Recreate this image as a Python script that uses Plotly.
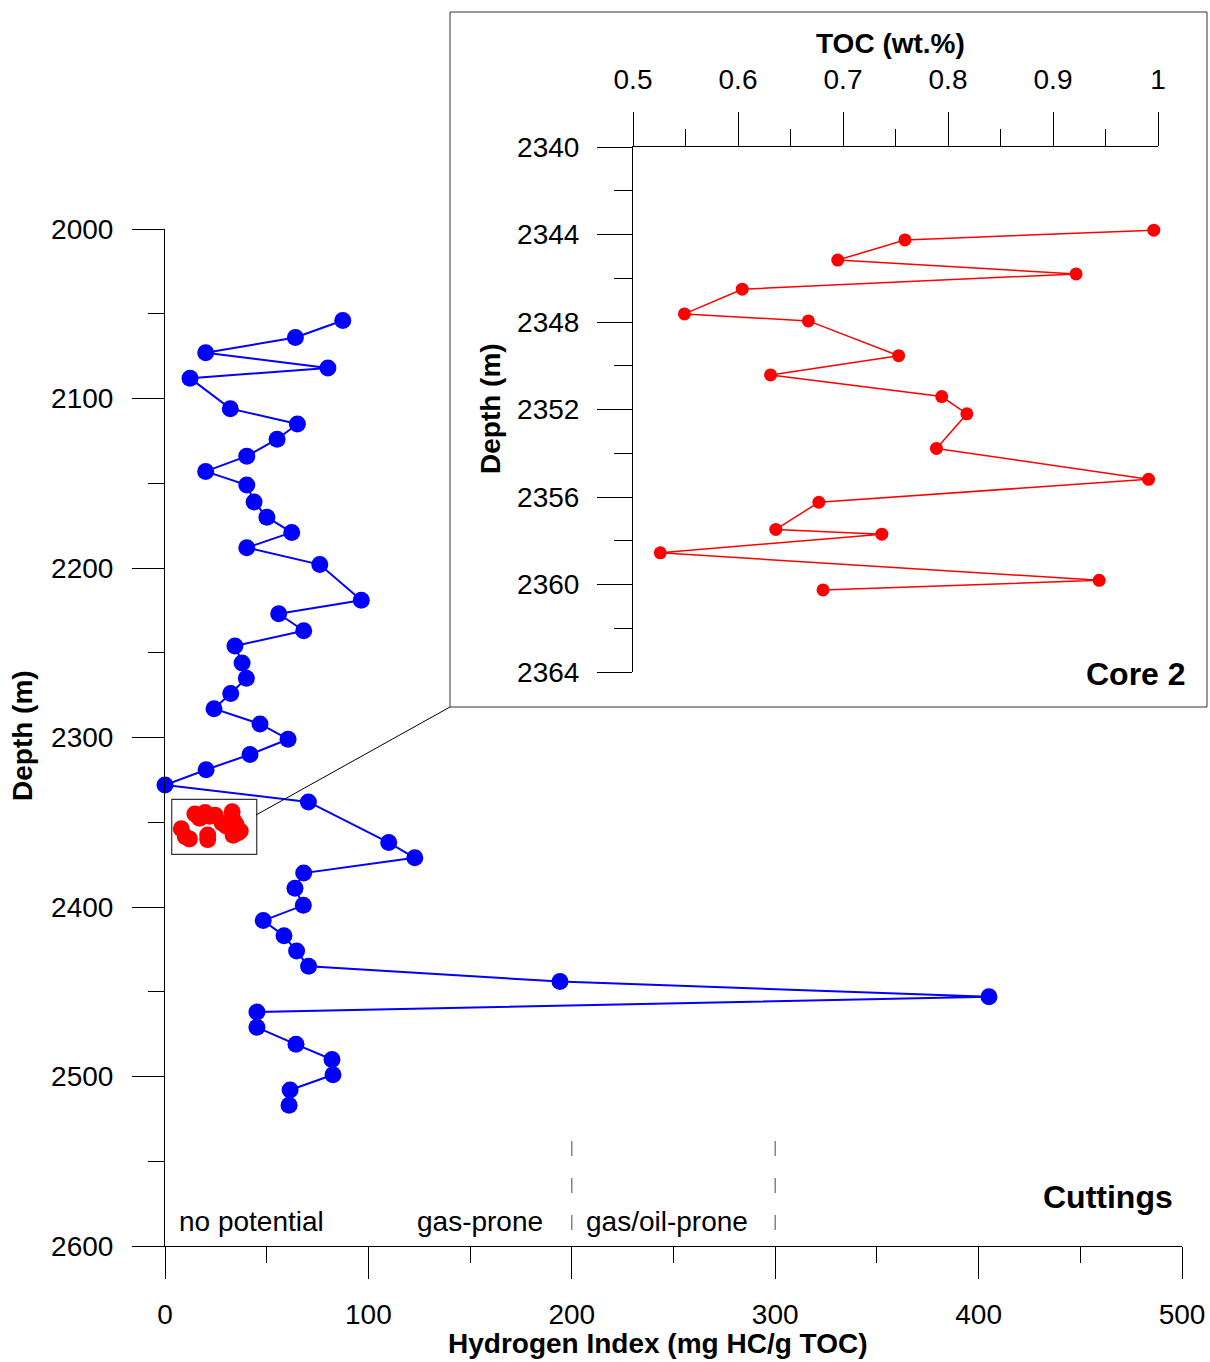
import plotly.graph_objects as go

# ---------------- data ----------------
cuttings_depth = [2054, 2064, 2073, 2082, 2088, 2106, 2115, 2124, 2134, 2143, 2151, 2161,
                  2170, 2179, 2188, 2198, 2219, 2227, 2237, 2246, 2256, 2265, 2274, 2283,
                  2292, 2301, 2310, 2319, 2328, 2338, 2362, 2371, 2380, 2389, 2399, 2408,
                  2417, 2426, 2435, 2444, 2453, 2462, 2471, 2481, 2490, 2499, 2508, 2517]
cuttings_hi = [87.4, 64.1, 20.0, 80.1, 12.3, 32.1, 65.1, 55.1, 40.2, 20.0, 40.2, 43.8,
               50.1, 62.3, 40.2, 76.1, 96.5, 55.9, 68.2, 34.4, 37.9, 40.0, 32.3, 24.1,
               46.7, 60.5, 41.8, 20.2, 0.0, 70.5, 110.0, 122.8, 68.2, 63.9, 68.0, 48.3,
               58.5, 64.7, 70.6, 194.2, 405.1, 45.2, 45.2, 64.4, 82.1, 82.6, 61.5, 61.0]

core_depth = [2343.8, 2344.25, 2345.17, 2345.8, 2346.5, 2347.63, 2347.95, 2349.54, 2350.42,
              2351.41, 2352.2, 2353.78, 2355.19, 2356.24, 2357.48, 2357.7, 2358.55, 2359.81,
              2360.25]
core_toc = [0.996, 0.759, 0.695, 0.922, 0.604, 0.549, 0.667, 0.753, 0.631,
            0.794, 0.818, 0.789, 0.991, 0.677, 0.636, 0.737, 0.526, 0.944, 0.681]
core_hi = [33, 19.7, 14.7, 24.6, 22, 17, 33, 34, 28,
           35, 30, 8, 37, 36, 21, 33.5, 10, 12, 21]

hi_ticks = [0, 100, 200, 300, 400, 500]
depth_ticks = [2000, 2100, 2200, 2300, 2400, 2500, 2600]
toc_ticks = [0.5, 0.6, 0.7, 0.8, 0.9, 1.0]
toc_labels = ["0.5", "0.6", "0.7", "0.8", "0.9", "1"]
core_depth_ticks = [2340, 2344, 2348, 2352, 2356, 2360, 2364]

zone_labels = ["no potential", "gas-prone", "gas/oil-prone"]
zone_bounds = [200, 300]

# ---------------- layout helpers ----------------
W, H = 1210, 1362
def fx(p):
    return p / W
def fy(p):
    return 1 - p / H

FONT = "Arial, Liberation Sans, sans-serif"
BLUE = "#0000ff"
RED = "#ff0000"
FS = 28

fig = go.Figure()
fig.add_trace(go.Scatter(x=cuttings_hi, y=cuttings_depth, mode="lines+markers",
                         line=dict(color=BLUE, width=2),
                         marker=dict(size=17, color=BLUE),
                         cliponaxis=False, xaxis="x", yaxis="y", showlegend=False))
fig.add_trace(go.Scatter(x=core_hi, y=core_depth, mode="markers",
                         marker=dict(size=17, color=RED),
                         cliponaxis=False, xaxis="x", yaxis="y", showlegend=False))
fig.add_trace(go.Scatter(x=core_toc, y=core_depth, mode="lines+markers",
                         line=dict(color=RED, width=1.5),
                         marker=dict(size=13, color=RED),
                         cliponaxis=False, xaxis="x2", yaxis="y2", showlegend=False))

axis_common = dict(showgrid=False, zeroline=False, showline=True, linecolor="black",
                   linewidth=1, ticks="outside", tickcolor="black", tickwidth=1,
                   automargin=False,
                   tickfont=dict(family=FONT, size=FS, color="black"))

fig.update_layout(
    template="none",
    width=W, height=H, autosize=False,
    margin=dict(l=0, r=0, t=0, b=0, autoexpand=False),
    paper_bgcolor="white", plot_bgcolor="white",
    font=dict(family=FONT, color="black"),
    showlegend=False,
    xaxis=dict(domain=[fx(165), fx(1182)], range=[0, 500], anchor="y",
               tickmode="array", tickvals=hi_ticks, ticklen=32,
               minor=dict(tickmode="linear", tick0=0, dtick=50, ticklen=16, ticks="outside",
                          tickcolor="black", tickwidth=1, showgrid=False),
               ticklabelstandoff=11, **axis_common),
    yaxis=dict(domain=[fy(1246), fy(229)], range=[2600, 2000], anchor="x",
               tickmode="array", tickvals=depth_ticks, ticklen=32,
               minor=dict(tickmode="linear", tick0=2000, dtick=50, ticklen=16, ticks="outside",
                          tickcolor="black", tickwidth=1, showgrid=False),
               ticklabelstandoff=13, **axis_common),
    xaxis2=dict(domain=[fx(633), fx(1158)], range=[0.5, 1.0], anchor="y2", side="top",
                tickmode="array", tickvals=toc_ticks, ticktext=toc_labels, ticklen=34,
                minor=dict(tickmode="linear", tick0=0.5, dtick=0.05, ticklen=17, ticks="outside",
                           tickcolor="black", tickwidth=1, showgrid=False),
                ticklabelstandoff=12, **axis_common),
    yaxis2=dict(domain=[fy(672), fy(147)], range=[2364, 2340], anchor="x2",
                tickmode="array", tickvals=core_depth_ticks, ticklen=35,
                minor=dict(tickmode="linear", tick0=2340, dtick=2, ticklen=18, ticks="outside",
                           tickcolor="black", tickwidth=1, showgrid=False),
                ticklabelstandoff=12, **axis_common),
)

shapes = [
    # inset frame
    dict(type="rect", xref="paper", yref="paper", x0=fx(450), x1=fx(1207), y0=fy(707), y1=fy(12),
         line=dict(color="#333333", width=1)),
    # small box around core samples (data coords of main axes)
    dict(type="rect", xref="x", yref="y", x0=3.3, x1=45.1, y0=2336.5, y1=2368.9,
         line=dict(color="#333333", width=1.2)),
    # connector line
    dict(type="line", xref="paper", yref="paper", x0=fx(256), y0=fy(815), x1=fx(450), y1=fy(707),
         line=dict(color="black", width=1)),
]
for b in zone_bounds:
    shapes.append(dict(type="line", xref="x", yref="y", x0=b, x1=b, y0=2538, y1=2600,
                       line=dict(color="#666666", width=1.2, dash="15px,22px")))
fig.update_layout(shapes=shapes)

ann = []
def add_text(text, x, y, size=FS, bold=False, xanchor="center", angle=0):
    ann.append(dict(text=("<b>%s</b>" % text) if bold else text, x=fx(x), y=fy(y),
                    xref="paper", yref="paper", xanchor=xanchor, yanchor="middle",
                    showarrow=False, textangle=angle,
                    font=dict(family=FONT, size=size, color="black")))

add_text("Hydrogen Index (mg HC/g TOC)", 658, 1343, bold=True)
add_text("Depth (m)", 22, 736, bold=True, angle=-90)
add_text("TOC (wt.%)", 890, 43, bold=True)
add_text("Depth (m)", 490, 409, bold=True, angle=-90)
add_text(zone_labels[0], 177, 1221, xanchor="left")
add_text(zone_labels[1], 415, 1221, xanchor="left")
add_text(zone_labels[2], 584, 1221, xanchor="left")
add_text("Cuttings", 1175, 1197, size=32, bold=True, xanchor="right")
add_text("Core 2", 1188, 674, size=32, bold=True, xanchor="right")
fig.update_layout(annotations=ann)

fig.write_html("out.html", config={"displayModeBar": False})
with open("out.html", "r", encoding="utf-8") as f:
    html = f.read()
html = html.replace("<head>", "<head><style>html,body{margin:0;padding:0;overflow:hidden;}</style>", 1)
with open("out.html", "w", encoding="utf-8") as f:
    f.write(html)
